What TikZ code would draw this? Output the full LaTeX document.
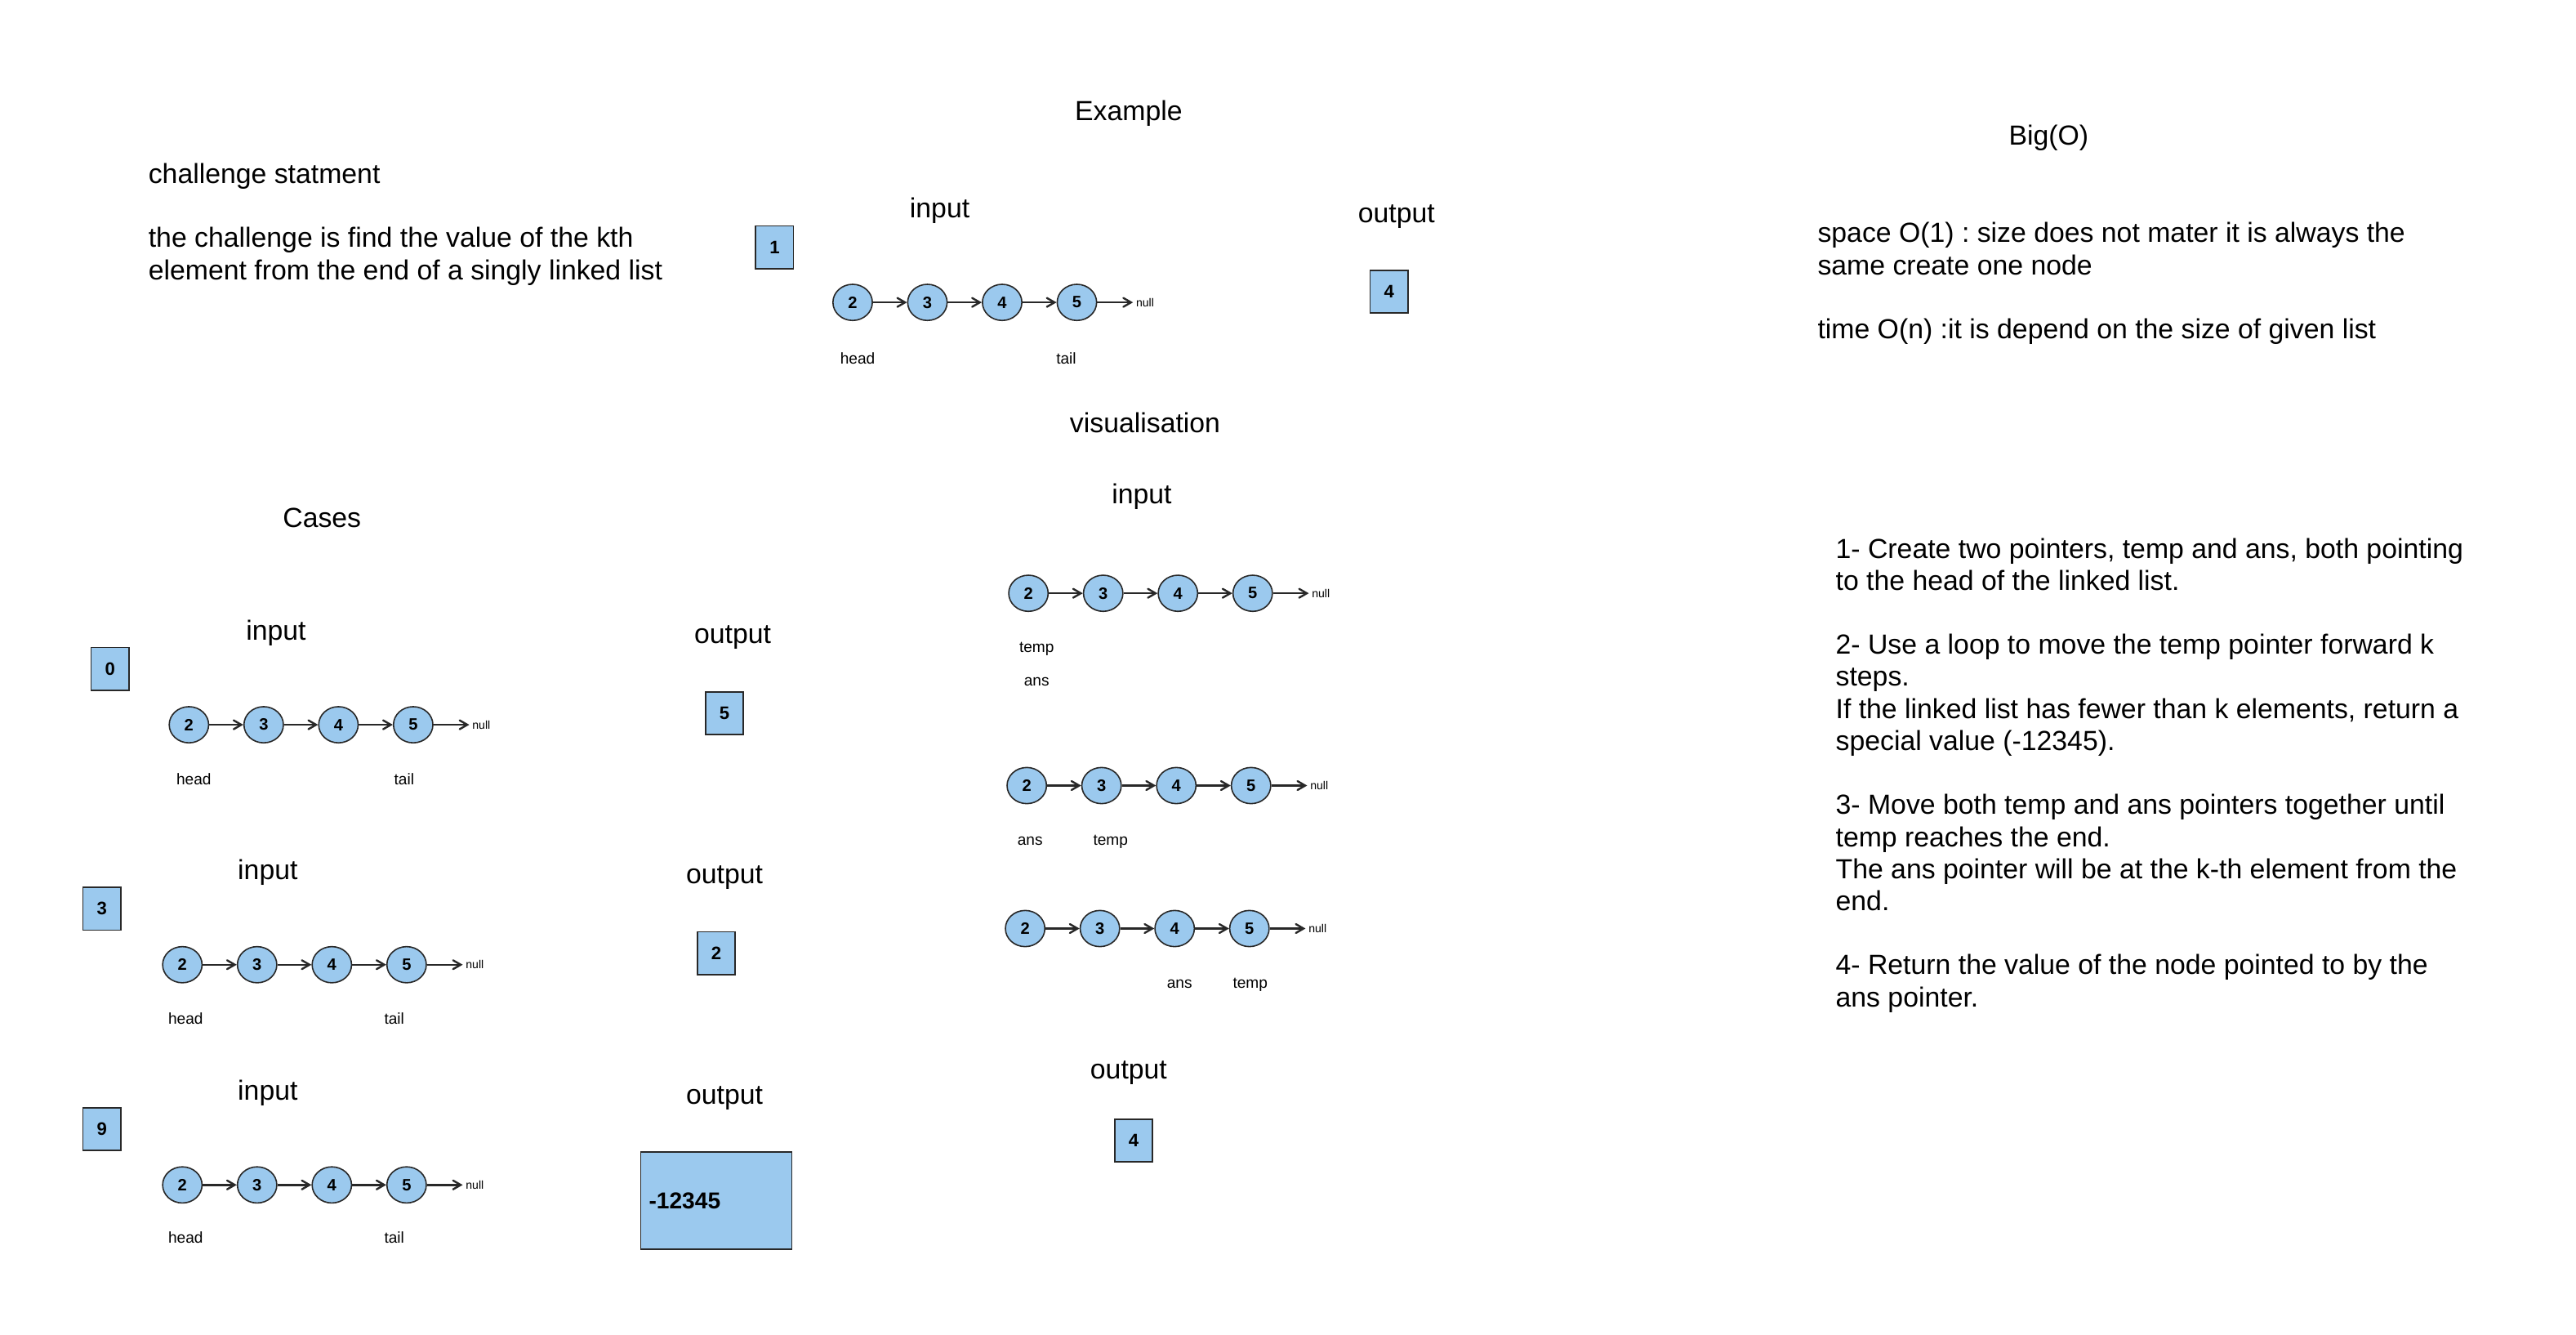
\documentclass[tikz,border=0pt]{standalone}
\usepackage{fontspec}
\setmainfont{Liberation Sans}
\usepackage{tikz}
\usetikzlibrary{arrows,shapes.geometric}
\definecolor{cblue}{RGB}{155,201,238}
\definecolor{cline}{RGB}{40,40,40}
\frenchspacing

\begin{document}
\begin{tikzpicture}[x=1pt,y=-1pt,>=angle 60,node distance=45.5pt,
  thick,list node/.style={ellipse,fill=cblue,draw=cline,minimum width=24pt,minimum height=22pt,
        inner sep=0pt,font=\fontsize{10}{12}\selectfont\bfseries},
        value node/.style={rectangle,fill=cblue,draw=cline,minimum width=23pt,minimum height=26pt,
        inner sep=0pt,font=\fontsize{11}{13}\selectfont\bfseries},
        null node/.style={inner sep=1.5pt,font=\fontsize{7}{8}\selectfont},
        ptr node/.style={inner sep=0pt,font=\fontsize{9.5}{11}\selectfont},
        title node/.style={inner sep=0pt,yshift=-1pt,font=\fontsize{16.8}{19.5}\selectfont},
        text node/.style={inner sep=0pt,anchor=north west,align=left,font=\fontsize{16.8}{19.5}\selectfont}]
  \useasboundingbox (0,-1) rectangle (1568,811);

  % statement and complexity
  \node[text node] (stmt) at (90,98) {challenge statment\\[19.5pt]the challenge is find the value of the kth\\element from the end of a singly linked list};
  \node[title node] (bigo) at (1247,82) {Big(O)};
  \node[text node] (cost) at (1106,134) {space O(1) : size does not mater it is always the\\same create one node\\[19.5pt]time O(n) :it is depend on the size of given list};
  \node[text node] (algo) at (1117,326) {1- Create two pointers, temp and ans, both pointing\\to the head of the linked list.\\[19.5pt]2- Use a loop to move the temp pointer forward k\\steps.\\If the linked list has fewer than k elements, return a\\special value (-12345).\\[19.5pt]3- Move both temp and ans pointers together until\\temp reaches the end.\\The ans pointer will be at the k-th element from the\\end.\\[19.5pt]4- Return the value of the node pointed to by the\\ans pointer.};

  % example
  \node[title node] (ex) at (687,67) {Example};
  \node[title node] (exin) at (572,126) {input};
  \node[title node] (exout) at (850,130) {output};
  \node[value node] (exk) at (471.5,149.5) {1};
  \node[value node] (exr) at (845.5,176.5) {4};
  \node[list node] (e1) at (519,183) {2};
  \node[list node] (e2) [right of=e1] {3};
  \node[list node] (e3) [right of=e2] {4};
  \node[list node] (e4) [right of=e3] {5};
  \node[null node] (en) [right of=e4, xshift=-4pt] {null};
  \node[ptr node] (eh) at (522,217) {head};
  \node[ptr node] (et) at (649,217) {tail};

  % cases
  \node[title node] (cs) at (196,313) {Cases};
  \node[title node] (ain) at (168,383) {input};
  \node[title node] (aout) at (446,386) {output};
  \node[value node] (ak) at (67,406) {0};
  \node[value node] (ar) at (441,433) {5};
  \node[list node] (a1) at (115,440) {2};
  \node[list node] (a2) [right of=a1] {3};
  \node[list node] (a3) [right of=a2] {4};
  \node[list node] (a4) [right of=a3] {5};
  \node[null node] (an) [right of=a4, xshift=-4pt] {null};
  \node[ptr node] (ah) at (118,473) {head};
  \node[ptr node] (at) at (246,473) {tail};

  \node[title node] (bin) at (163,529) {input};
  \node[title node] (bout) at (441,532) {output};
  \node[value node] (bk) at (62,552) {3};
  \node[value node] (br) at (436,579) {2};
  \node[list node] (b1) at (111,586) {2};
  \node[list node] (b2) [right of=b1] {3};
  \node[list node] (b3) [right of=b2] {4};
  \node[list node] (b4) [right of=b3] {5};
  \node[null node] (bn) [right of=b4, xshift=-4pt] {null};
  \node[ptr node] (bh) at (113,619) {head};
  \node[ptr node] (bt) at (240,619) {tail};

  \node[title node] (cin) at (163,663) {input};
  \node[title node] (cout) at (441,666) {output};
  \node[value node] (ck) at (62,686) {9};
  \node[value node, minimum height=59pt, text width=82pt, inner xsep=5pt, align=left,
        font=\fontsize{14}{16}\selectfont\bfseries] (cr) at (436,729.5) {-12345};
  \node[list node] (c1) at (111,720) {2};
  \node[list node] (c2) [right of=c1] {3};
  \node[list node] (c3) [right of=c2] {4};
  \node[list node] (c4) [right of=c3] {5};
  \node[null node] (cn) [right of=c4, xshift=-4pt] {null};
  \node[ptr node] (ch) at (113,752) {head};
  \node[ptr node] (ct) at (240,752) {tail};

  % visualisation
  \node[title node] (vis) at (697,255) {visualisation};
  \node[title node] (vin) at (695,300) {input};
  \node[list node] (p1) at (626,360) {2};
  \node[list node] (p2) [right of=p1] {3};
  \node[list node] (p3) [right of=p2] {4};
  \node[list node] (p4) [right of=p3] {5};
  \node[null node] (pn) [right of=p4, xshift=-4pt] {null};
  \node[ptr node] (pt) at (631,394) {temp};
  \node[ptr node] (pa) at (631,414) {ans};

  \node[list node] (q1) at (625,477) {2};
  \node[list node] (q2) [right of=q1] {3};
  \node[list node] (q3) [right of=q2] {4};
  \node[list node] (q4) [right of=q3] {5};
  \node[null node] (qn) [right of=q4, xshift=-4pt] {null};
  \node[ptr node] (qa) at (627,511) {ans};
  \node[ptr node] (qt) at (676,511) {temp};

  \node[list node] (r1) at (624,564) {2};
  \node[list node] (r2) [right of=r1] {3};
  \node[list node] (r3) [right of=r2] {4};
  \node[list node] (r4) [right of=r3] {5};
  \node[null node] (rn) [right of=r4, xshift=-4pt] {null};
  \node[ptr node] (ra) at (718,598) {ans};
  \node[ptr node] (rt) at (761,598) {temp};
  \node[title node] (vout) at (687,651) {output};
  \node[value node] (vr) at (690,693) {4};

  \path[->,draw=cline,line width=1.2pt]
    (e1) edge (e2) (e2) edge (e3) (e3) edge (e4) (e4) edge (en)
    (a1) edge (a2) (a2) edge (a3) (a3) edge (a4) (a4) edge (an)
    (b1) edge (b2) (b2) edge (b3) (b3) edge (b4) (b4) edge (bn)
    (c1) edge (c2) (c2) edge (c3) (c3) edge (c4) (c4) edge (cn)
    (p1) edge (p2) (p2) edge (p3) (p3) edge (p4) (p4) edge (pn)
    (q1) edge (q2) (q2) edge (q3) (q3) edge (q4) (q4) edge (qn)
    (r1) edge (r2) (r2) edge (r3) (r3) edge (r4) (r4) edge (rn);
\end{tikzpicture}
\end{document}
